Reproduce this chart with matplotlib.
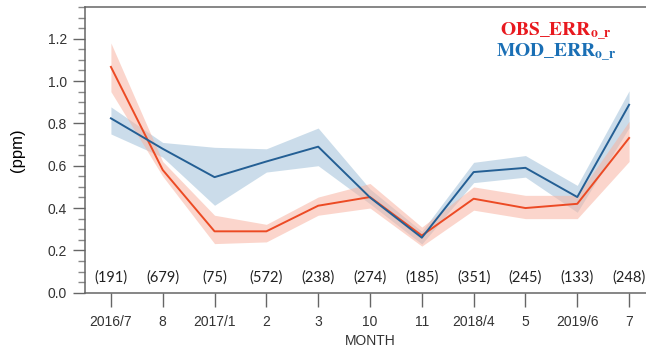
import numpy as np
import matplotlib.pyplot as plt
from matplotlib.ticker import MultipleLocator

# Monthly error series (ppm) with their spread
months = ["2016/7", "8", "2017/1", "2", "3", "10", "11", "2018/4", "5", "2019/6", "7"]
counts = [191, 679, 75, 572, 238, 274, 185, 351, 245, 133, 248]

obs_err = [1.067, 0.58, 0.29, 0.29, 0.411, 0.452, 0.27, 0.444, 0.40, 0.42, 0.731]
obs_lo = [0.95, 0.55, 0.232, 0.24, 0.366, 0.40, 0.22, 0.39, 0.35, 0.35, 0.62]
obs_hi = [1.18, 0.62, 0.366, 0.323, 0.452, 0.516, 0.31, 0.50, 0.46, 0.46, 0.81]

mod_err = [0.824, 0.68, 0.546, 0.62, 0.69, 0.45, 0.26, 0.57, 0.59, 0.452, 0.888]
mod_lo = [0.75, 0.64, 0.413, 0.57, 0.60, 0.42, 0.23, 0.52, 0.546, 0.38, 0.78]
mod_hi = [0.878, 0.71, 0.687, 0.68, 0.778, 0.49, 0.29, 0.616, 0.648, 0.507, 0.954]

x = np.arange(len(months))

fig = plt.figure(figsize=(6.46, 3.52), dpi=100)
ax = fig.add_axes([85 / 646, 1 - 292.7 / 352, 570 / 646, 285.7 / 352])

ax.fill_between(x, mod_lo, mod_hi, color="#a9c6dc", alpha=0.6, lw=0)
ax.fill_between(x, obs_lo, obs_hi, color="#f8b4a2", alpha=0.55, lw=0)
ax.plot(x, obs_err, color="#ec4a24", lw=1.4)
ax.plot(x, mod_err, color="#245f94", lw=1.4)

ax.set_xlim(-0.5, 10.5)
ax.set_ylim(0, 1.35)
ax.set_xticks(x)
ax.set_xticklabels(months, fontfamily="Liberation Sans", fontsize=10, color="#333333")
ax.yaxis.set_major_locator(MultipleLocator(0.2))
ax.yaxis.set_minor_locator(MultipleLocator(0.05))
ax.set_yticks([0, 0.2, 0.4, 0.6, 0.8, 1.0, 1.2])
ax.set_yticklabels(["0.0", "0.2", "0.4", "0.6", "0.8", "1.0", "1.2"],
                   fontfamily="Liberation Sans", fontsize=10, color="#333333")
ax.tick_params(axis="x", direction="out", length=10, width=1, color="#666666", pad=6)
ax.tick_params(axis="y", which="major", direction="out", length=9, width=1, color="#666666", pad=4)
ax.tick_params(axis="y", which="minor", direction="out", length=5, width=1, color="#888888")

for side in ["left", "bottom", "top"]:
    ax.spines[side].set_color("#666666")
    ax.spines[side].set_linewidth(1.1)
ax.spines["right"].set_visible(False)

# sample counts along the bottom
for xi, n in zip(x, counts):
    ax.text(xi, 0.07, f"({n})", ha="center", va="center",
            fontfamily="Lato", fontsize=10.5, color="#222222")

ax.set_ylabel("(ppm)", fontfamily="Liberation Sans", fontsize=12, labelpad=16)
ax.set_xlabel("MONTH", fontfamily="Liberation Sans", fontsize=10, color="#333333", labelpad=4)

plt.rcParams["mathtext.fontset"] = "stix"
fig.text(556 / 646, 1 - 32 / 352, r"$\mathbf{OBS\_ERR_{o\_r}}$", ha="center", va="center",
         fontsize=14, color="#e8191f")
fig.text(556 / 646, 1 - 53 / 352, r"$\mathbf{MOD\_ERR_{o\_r}}$", ha="center", va="center",
         fontsize=14, color="#1a6fb5")

fig.savefig("out.png", dpi=100)
